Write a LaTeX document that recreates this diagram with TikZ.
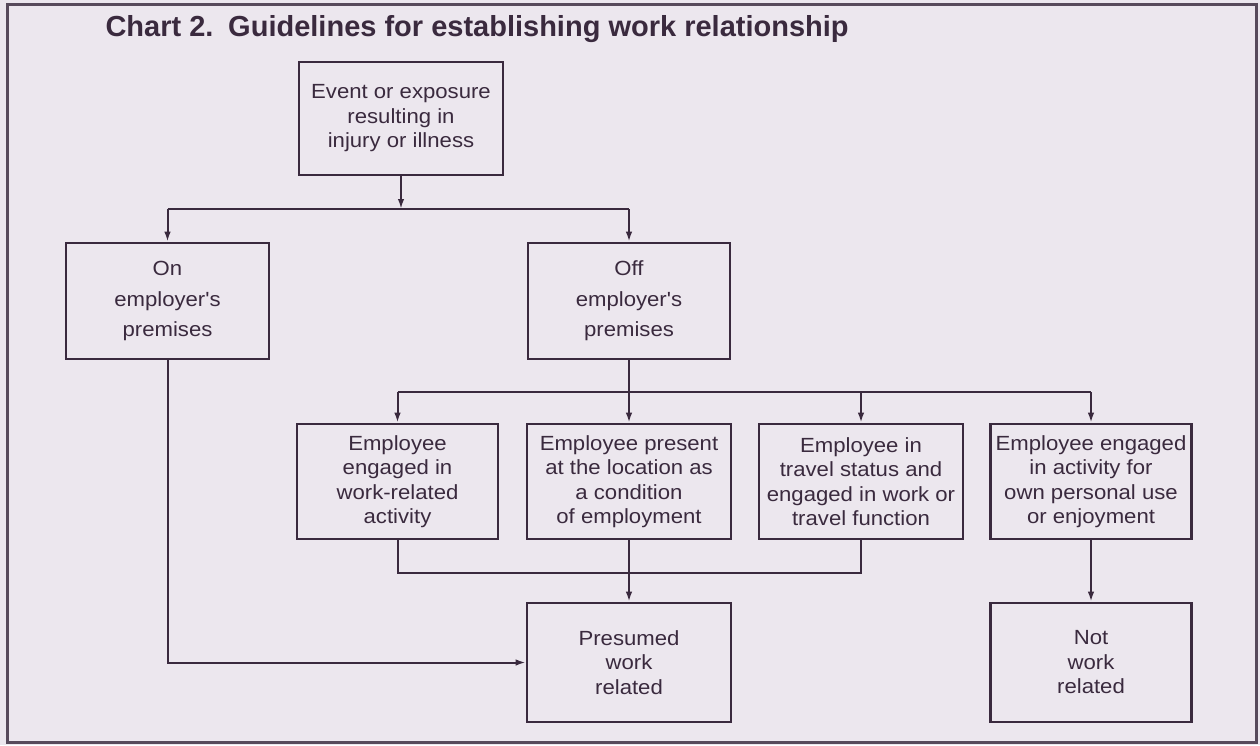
\documentclass[tikz,border=0pt]{standalone}
\usepackage{fontspec}
\setmainfont{Liberation Sans}
\newfontfamily\boxfont[FakeStretch=1.08]{Liberation Sans}
\newfontfamily\titlefont{Liberation Sans}
\usetikzlibrary{arrows.meta}
\definecolor{bg}{HTML}{ECE7EE}
\definecolor{ink}{HTML}{3A2A3E}
\tikzset{
  box/.style={draw=ink, line width=2.6pt, inner sep=0pt, align=center, text=ink,
    font=\boxfont\fontsize{20.5}{24.5}\selectfont},
  widebox/.style={box, font=\boxfont\fontsize{20.5}{30.5}\selectfont},
  conn/.style={draw=ink, line width=2pt},
  arr/.style={conn, -{Latex[length=10pt,width=6.5pt]}},
}
\begin{document}
\begin{tikzpicture}[x=1pt,y=-1pt]
\useasboundingbox (0,0) rectangle (1260,745);
\fill[bg] (0,0) rectangle (1260,745);
\draw[ink!85, line width=3pt] (7,4) rectangle (1256,742);

\node[anchor=base west, text=ink, font=\titlefont\bfseries\fontsize{29}{34}\selectfont] (title) at (102,36)
  {Chart 2.\hspace{4pt} Guidelines for establishing work relationship};

\node[box, minimum width=204pt, minimum height=113pt] (ev) at (401,118.5)
  {Event or exposure\\resulting in\\injury or illness};
\node[widebox, minimum width=203pt, minimum height=116pt] (on) at (167.5,301)
  {On\\employer's\\premises};
\node[widebox, minimum width=202pt, minimum height=116pt] (off) at (629,301)
  {Off\\employer's\\premises};

\node[box, minimum width=201pt, minimum height=115pt] (r1) at (397.5,481.5)
  {Employee\\engaged in\\work-related\\activity};
\node[box, minimum width=204pt, minimum height=115pt] (r2) at (629,481.5)
  {Employee present\\at the location as\\a condition\\of employment};
\node[box, minimum width=204pt, minimum height=115pt] (r3) at (861,481.5)
  {Employee in\\travel status and\\engaged in work or\\travel function};
\node[box, minimum width=201pt, minimum height=115pt] (r4) at (1091,481.5)
  {Employee engaged\\in activity for\\own personal use\\or enjoyment};

\node[box, minimum width=204pt, minimum height=119pt] (pres) at (629,662.5)
  {Presumed\\work\\related};
\node[box, minimum width=201pt, minimum height=119pt] (notw) at (1091,662.5)
  {Not\\work\\related};

\coordinate (b1) at (0,209);
\coordinate (b2) at (0,392);
\coordinate (b3) at (0,573);

% first split
\draw[arr] (ev.south) -- (ev.south |- b1);
\draw[conn] (on.north |- b1) -- (off.north |- b1);
\draw[arr] (on.north |- b1) -- (on.north);
\draw[arr] (off.north |- b1) -- (off.north);

% second split
\draw[conn] (off.south) -- (off.south |- b2);
\draw[conn] (r1.north |- b2) -- (r4.north |- b2);
\draw[arr] (r1.north |- b2) -- (r1.north);
\draw[arr] (r2.north |- b2) -- (r2.north);
\draw[arr] (r3.north |- b2) -- (r3.north);
\draw[arr] (r4.north |- b2) -- (r4.north);

% merge
\draw[conn] (r1.south) -- (r1.south |- b3) -- (r3.south |- b3) -- (r3.south);
\draw[arr] (r2.south) -- (pres.north);
\draw[arr] (r4.south) -- (notw.north);
\draw[arr] (on.south) |- (pres.west);
\end{tikzpicture}
\end{document}
